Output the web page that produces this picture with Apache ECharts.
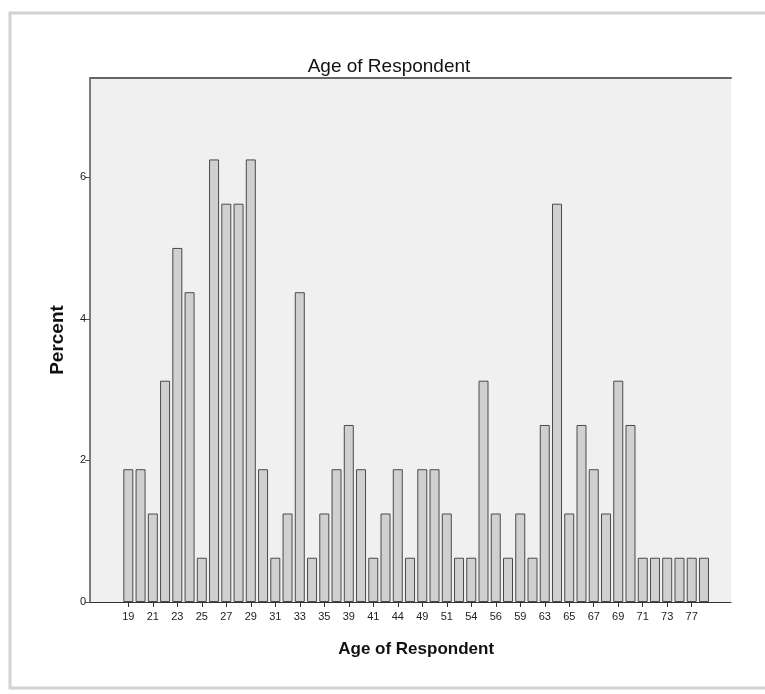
<!DOCTYPE html>
<html>
<head>
<meta charset="utf-8">
<script src="https://cdn.jsdelivr.net/npm/echarts@6/dist/echarts.min.js"></script>
<style>html,body{margin:0;padding:0;background:#fff;}#c{width:765px;height:694px;}</style>
</head>
<body>
<div id="c"></div>
<script>
const ages = ['19','20','21','22','23','24','25','26','27','28','29','30','31','32','33','34','35','37','39','40','41','43','44','47','49','50','51','53','54','55','56','58','59','61','63','64','65','66','67','68','69','70','71','72','73','75','77','78'];
const percents = [1.875,1.875,1.25,3.125,5.0,4.375,0.625,6.25,5.625,5.625,6.25,1.875,0.625,1.25,4.375,0.625,1.25,1.875,2.5,1.875,0.625,1.25,1.875,0.625,1.875,1.875,1.25,0.625,0.625,3.125,1.25,0.625,1.25,0.625,2.5,5.625,1.25,2.5,1.875,1.25,3.125,2.5,0.625,0.625,0.625,0.625,0.625,0.625];
const yTicks = [0, 2, 4, 6];
const titleText = 'Age of Respondent';
const xName = 'Age of Respondent';
const yName = 'Percent';

const font = 'Liberation Sans, Arial, sans-serif';
const chart = echarts.init(document.getElementById('c'));
chart.setOption({
  animation: false,
  backgroundColor: '#ffffff',
  title: {
    text: titleText, left: 384, top: 52, textAlign: 'center',
    textStyle: {fontFamily: font, fontSize: 19, fontWeight: 'normal', color: '#111'}
  },
  graphic: [{
    type: 'rect', z: -10,
    shape: {x: 10, y: 13, width: 800, height: 675},
    style: {fill: 'none', stroke: '#d2d2d2', lineWidth: 3}
  }],
  grid: [
    {left: 90, right: 34, top: 78, bottom: 92, show: true, backgroundColor: '#f0f0f0', borderWidth: 0},
    {left: 122.2, right: 54.9, top: 78, bottom: 92}
  ],
  xAxis: [
    {gridIndex: 0, type: 'value', min: 0, max: 1, position: 'bottom',
     axisLine: {show: true, lineStyle: {color: '#333', width: 1}},
     axisTick: {show: false}, axisLabel: {show: false}, splitLine: {show: false}},
    {gridIndex: 0, type: 'value', min: 0, max: 1, position: 'top',
     axisLine: {show: true, lineStyle: {color: '#666', width: 2}},
     axisTick: {show: false}, axisLabel: {show: false}, splitLine: {show: false}},
    {gridIndex: 1, type: 'category', data: ages, position: 'bottom',
     axisLine: {show: false},
     axisTick: {show: true, interval: 1, alignWithLabel: true, length: 5, lineStyle: {color: '#333'}},
     axisLabel: {interval: 1, fontFamily: font, fontSize: 11, color: '#222', margin: 9},
     name: xName, nameLocation: 'middle', nameGap: 39,
     nameTextStyle: {fontFamily: font, fontSize: 17, fontWeight: 'bold', color: '#111'}}
  ],
  yAxis: [
    {gridIndex: 0, type: 'value', min: 0, max: 7.4,
     axisLine: {show: true, lineStyle: {color: '#555', width: 1.5}},
     axisTick: {show: true, length: 5, customValues: yTicks, lineStyle: {color: '#555'}},
     axisLabel: {customValues: yTicks, fontFamily: font, fontSize: 11, color: '#222', margin: 4},
     splitLine: {show: false},
     name: yName, nameLocation: 'middle', nameGap: 23, nameRotate: 90,
     nameTextStyle: {fontFamily: font, fontSize: 19, fontWeight: 'bold', color: '#111'}},
    {gridIndex: 1, type: 'value', min: 0, max: 7.4, show: false}
  ],
  series: [{
    type: 'bar', xAxisIndex: 2, yAxisIndex: 1, data: percents, barWidth: 10,
    itemStyle: {color: '#d0d0d0', borderColor: '#4a4a4a', borderWidth: 1}
  }]
});
</script>
</body>
</html>
